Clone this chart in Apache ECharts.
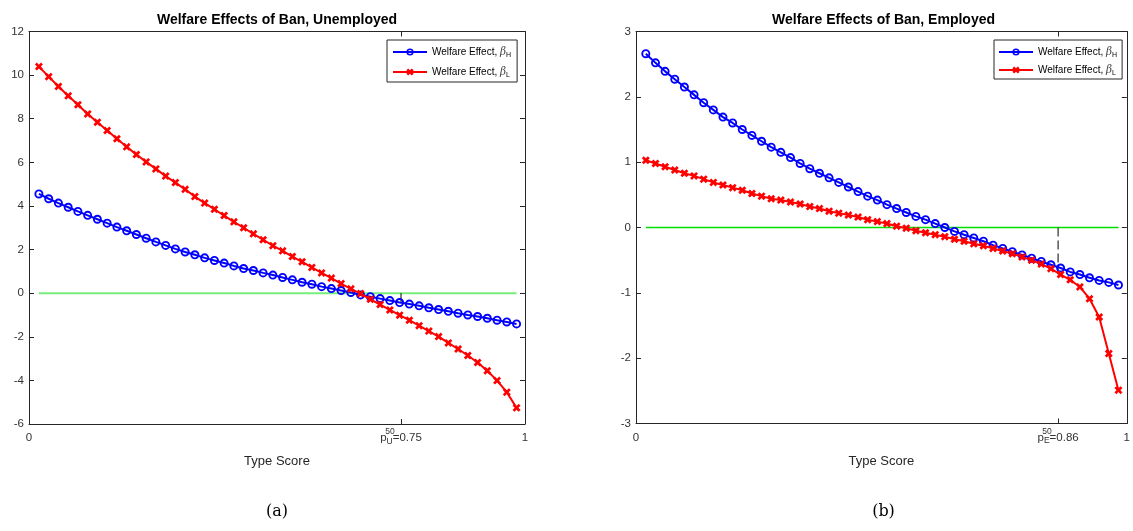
<!DOCTYPE html>
<html><head><meta charset="utf-8">
<script src="https://cdn.jsdelivr.net/npm/echarts@6/dist/echarts.min.js"></script>
<style>html,body{margin:0;padding:0;background:#fff}#c{width:1133px;height:531px}</style>
</head><body><div id="c"></div>
<script>
// ---------- data ----------
const typeScore = [0.0200,0.0397,0.0593,0.0790,0.0986,0.1183,0.1379,0.1576,0.1772,0.1969,
  0.2165,0.2362,0.2558,0.2755,0.2951,0.3148,0.3344,0.3541,0.3738,0.3934,
  0.4131,0.4327,0.4524,0.4720,0.4917,0.5113,0.5310,0.5506,0.5703,0.5899,
  0.6096,0.6292,0.6489,0.6685,0.6882,0.7079,0.7275,0.7472,0.7668,0.7865,
  0.8061,0.8258,0.8454,0.8651,0.8847,0.9044,0.9240,0.9437,0.9633,0.9830];
const unempBetaH = [4.55,4.33,4.13,3.94,3.75,3.57,3.39,3.21,3.03,2.86,
  2.69,2.52,2.35,2.19,2.03,1.89,1.76,1.62,1.50,1.38,
  1.25,1.13,1.04,0.93,0.83,0.72,0.61,0.50,0.41,0.30,
  0.21,0.12,0.03,-0.08,-0.16,-0.25,-0.34,-0.43,-0.50,-0.58,
  -0.67,-0.75,-0.83,-0.92,-1.00,-1.07,-1.15,-1.24,-1.32,-1.41];
const unempBetaL = [10.39,9.93,9.48,9.05,8.64,8.22,7.84,7.46,7.08,6.71,
  6.36,6.02,5.70,5.37,5.07,4.76,4.43,4.13,3.85,3.56,
  3.27,3.00,2.72,2.45,2.18,1.94,1.68,1.44,1.18,0.93,
  0.69,0.44,0.20,-0.02,-0.28,-0.52,-0.77,-1.01,-1.24,-1.49,
  -1.74,-1.99,-2.28,-2.56,-2.86,-3.18,-3.56,-4.01,-4.54,-5.26];
const empBetaH = [2.66,2.52,2.39,2.27,2.15,2.03,1.91,1.80,1.69,1.60,
  1.50,1.41,1.32,1.23,1.15,1.07,0.98,0.90,0.83,0.76,
  0.69,0.62,0.55,0.48,0.42,0.35,0.29,0.23,0.17,0.12,
  0.06,0.00,-0.06,-0.11,-0.16,-0.21,-0.27,-0.32,-0.37,-0.42,
  -0.47,-0.52,-0.57,-0.62,-0.68,-0.72,-0.77,-0.81,-0.84,-0.88];
const empBetaL = [1.03,0.98,0.93,0.88,0.83,0.79,0.74,0.69,0.65,0.61,
  0.57,0.52,0.48,0.44,0.42,0.39,0.36,0.32,0.29,0.25,
  0.22,0.19,0.16,0.12,0.09,0.06,0.02,-0.01,-0.05,-0.08,
  -0.11,-0.14,-0.18,-0.21,-0.25,-0.28,-0.32,-0.36,-0.40,-0.45,
  -0.50,-0.56,-0.63,-0.72,-0.80,-0.91,-1.09,-1.37,-1.93,-2.49];
const zeroLineX = [0.02, 0.983];
const medianU = 0.75, medianUDashEnd = -0.45;
const medianE = 0.86, medianEDashEnd = -0.72;
const xTicksU = [0, 0.75, 1];
const xTicksE = [0, 0.86, 1];
const yRangeU = [-6, 12, 2];
const yRangeE = [-3, 3, 1];
const seriesNames = ['Welfare Effect, βH', 'Welfare Effect, βL'];
const titles = ['Welfare Effects of Ban, Unemployed', 'Welfare Effects of Ban, Employed'];
const captions = ['(a)', '(b)'];
const xName = 'Type Score';

// ---------- styling ----------
const AX = '#262626';
const FONT = 'Liberation Sans, Arial, Helvetica, sans-serif';
const ring = 'path://M5,0A5,5,0,1,1,5,10A5,5,0,1,1,5,0ZM5,2.1A2.9,2.9,0,1,0,5,7.9A2.9,2.9,0,1,0,5,2.1Z';
const cross = 'path://M0,2.4L2.4,0L5,2.6L7.6,0L10,2.4L7.4,5L10,7.6L7.6,10L5,7.4L2.4,10L0,7.6L2.6,5Z';

const pairs = arr => typeScore.map((x, i) => [x, arr[i]]);

const grids = [
  {left: 29, top: 31.5, width: 496, height: 392.5},
  {left: 636, top: 31.5, width: 495, height: 392}
];

function xAxesFor(g, ticks, med, sub) {
  const medLabel = '{p|p}{u|' + sub + '}{e|=' + med + '}';
  return [
    {gridIndex: g, type: 'value', min: 0, max: 1, position: 'bottom',
      axisLine: {show: true, onZero: false, lineStyle: {color: AX, width: 1}},
      axisTick: {show: true, inside: true, length: 5, customValues: ticks, lineStyle: {color: AX}},
      axisLabel: {customValues: ticks, margin: 6, color: '#333', fontSize: 11.5, fontFamily: FONT, lineHeight: 16,
        formatter: v => (v === med ? medLabel : String(v)),
        rich: {
          p: {fontSize: 11.5, fontFamily: FONT, color: '#333', lineHeight: 16, verticalAlign: 'middle'},
          u: {fontSize: 8.5, fontFamily: FONT, color: '#333', lineHeight: 16, verticalAlign: 'bottom'},
          e: {fontSize: 11.5, fontFamily: FONT, color: '#333', lineHeight: 16, verticalAlign: 'middle'}
        }},
      splitLine: {show: false},
      name: xName, nameLocation: 'middle', nameGap: 31,
      nameTextStyle: {fontSize: 13, color: AX, fontFamily: FONT}},
    {gridIndex: g, type: 'value', min: 0, max: 1, position: 'top',
      axisLine: {show: true, onZero: false, lineStyle: {color: AX, width: 1}},
      axisTick: {show: true, inside: true, length: 5, customValues: [med], lineStyle: {color: AX}},
      axisLabel: {show: false}, splitLine: {show: false}},
    {gridIndex: g, type: 'value', min: 0, max: 1, position: 'bottom',
      axisLine: {show: false, onZero: false}, axisTick: {show: false}, splitLine: {show: false},
      axisLabel: {customValues: [med], margin: 3, formatter: () => '{s|50}',
        rich: {s: {fontSize: 8.5, fontFamily: FONT, color: '#333', lineHeight: 10, padding: [0, 22, 0, 0]}}}}
  ];
}
function yAxesFor(g, r) {
  return [
    {gridIndex: g, type: 'value', min: r[0], max: r[1], interval: r[2], position: 'left',
      axisLine: {show: true, onZero: false, lineStyle: {color: AX, width: 1}},
      axisTick: {show: true, inside: true, length: 5, lineStyle: {color: AX}},
      axisLabel: {margin: 5, color: '#333', fontSize: 11.5, fontFamily: FONT},
      splitLine: {show: false}},
    {gridIndex: g, type: 'value', min: r[0], max: r[1], interval: r[2], position: 'right',
      axisLine: {show: true, onZero: false, lineStyle: {color: AX, width: 1}},
      axisTick: {show: true, inside: true, length: 5, lineStyle: {color: AX}},
      axisLabel: {show: false}, splitLine: {show: false}}
  ];
}

function seriesFor(g, bH, bL, med, dashEnd, zeroColor, zeroWidth) {
  const xi = g * 3, yi = g * 2;
  return [
    {type: 'line', xAxisIndex: xi, yAxisIndex: yi, data: zeroLineX.map(x => [x, 0]), symbol: 'none',
      lineStyle: {color: zeroColor, width: zeroWidth, opacity: 1}, silent: true, z: 2},
    {type: 'line', xAxisIndex: xi, yAxisIndex: yi, data: [[med, 0], [med, dashEnd]], symbol: 'none',
      lineStyle: {color: '#000', width: 1, type: [9, 4]}, silent: true, z: 2},
    {name: seriesNames[0], type: 'line', xAxisIndex: xi, yAxisIndex: yi, data: pairs(bH),
      symbol: ring, symbolSize: 9, lineStyle: {color: '#0000ff', width: 2},
      itemStyle: {color: '#0000ff'}, z: 3},
    {name: seriesNames[1], type: 'line', xAxisIndex: xi, yAxisIndex: yi, data: pairs(bL),
      symbol: cross, symbolSize: 8, lineStyle: {color: '#ff0000', width: 2},
      itemStyle: {color: '#ff0000'}, z: 4}
  ];
}

const legendBase = {
  data: seriesNames, orient: 'vertical', itemWidth: 34, itemHeight: 9, itemGap: 6,
  backgroundColor: '#fff', borderColor: AX, borderWidth: 1,
  formatter: n => (n === seriesNames[0] ? 'Welfare Effect, {b|β}{s|H}' : 'Welfare Effect, {b|β}{s|L}'),
  textStyle: {fontSize: 10, color: '#000', fontFamily: FONT, lineHeight: 14,
    rich: {
      b: {fontSize: 10.5, fontStyle: 'italic', fontFamily: 'DejaVu Serif, serif', color: '#444', lineHeight: 14, verticalAlign: 'middle'},
      s: {fontSize: 7, fontFamily: FONT, color: '#000', lineHeight: 14, verticalAlign: 'bottom'}
    }}
};

const chart = echarts.init(document.getElementById('c'), null, {renderer: 'canvas'});
chart.setOption({
  animation: false,
  backgroundColor: '#fff',
  grid: grids,
  xAxis: [...xAxesFor(0, xTicksU, medianU, 'U'), ...xAxesFor(1, xTicksE, medianE, 'E')],
  yAxis: [...yAxesFor(0, yRangeU), ...yAxesFor(1, yRangeE)],
  legend: [
    Object.assign({}, legendBase, {left: 387, top: 40, padding: [5, 6, 3, 5]}),
    Object.assign({}, legendBase, {left: 994, top: 40, padding: [5, 5, 2, 4], itemGap: 4})
  ],
  series: [
    ...seriesFor(0, unempBetaH, unempBetaL, medianU, medianUDashEnd, '#77ee77', 2),
    ...seriesFor(1, empBetaH, empBetaL, medianE, medianEDashEnd, '#00e000', 1.3)
  ],
  graphic: [
    {type: 'text', x: 277, y: 20, style: {text: titles[0], align: 'center', verticalAlign: 'middle', font: 'bold 14px ' + FONT, fill: '#000'}},
    {type: 'text', x: 883.5, y: 20, style: {text: titles[1], align: 'center', verticalAlign: 'middle', font: 'bold 14px ' + FONT, fill: '#000'}},
    {type: 'text', x: 277, y: 512, style: {text: captions[0], align: 'center', verticalAlign: 'middle', font: '16px "DejaVu Serif", "Liberation Serif", serif', fill: '#000'}},
    {type: 'text', x: 883.5, y: 512, style: {text: captions[1], align: 'center', verticalAlign: 'middle', font: '16px "DejaVu Serif", "Liberation Serif", serif', fill: '#000'}}
  ]
});
</script>
</body></html>
